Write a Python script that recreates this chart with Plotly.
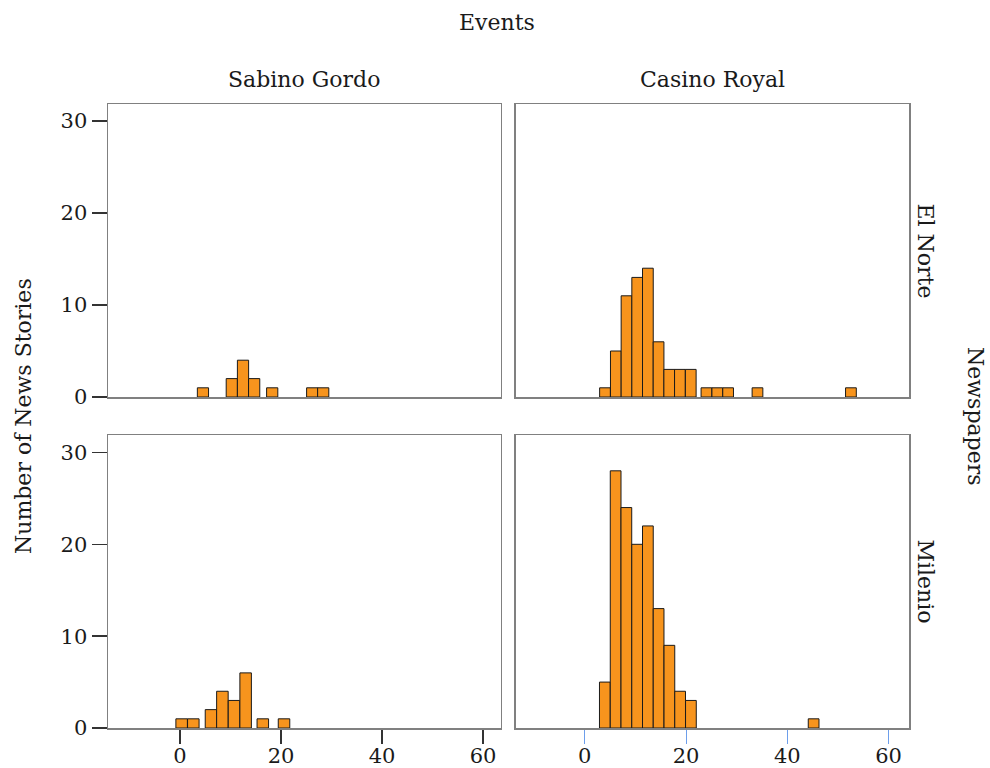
import plotly.graph_objects as go

# ---- data ----
events = ["Sabino Gordo", "Casino Royal"]
newspapers = ["El Norte", "Milenio"]

# El Norte / Sabino Gordo
elnorte_sabino_x = [4.55, 10.26, 12.48, 14.69, 18.26, 26.18, 28.36]
elnorte_sabino_n = [1, 2, 4, 2, 1, 1, 1]
# El Norte / Casino Royal
elnorte_casino_x = [3.99, 6.13, 8.24, 10.35, 12.46, 14.57, 16.68, 18.79, 20.93,
                    24.03, 26.17, 28.31, 34.11, 52.57]
elnorte_casino_n = [1, 5, 11, 13, 14, 6, 3, 3, 3, 1, 1, 1, 1, 1]
# Milenio / Sabino Gordo
milenio_sabino_x = [0.33, 2.64, 6.14, 8.40, 10.70, 13.00, 16.40, 20.60]
milenio_sabino_n = [1, 1, 2, 4, 3, 6, 1, 1]
# Milenio / Casino Royal
milenio_casino_x = [3.96, 6.09, 8.21, 10.34, 12.46, 14.58, 16.71, 18.83, 20.96, 45.2]
milenio_casino_n = [5, 28, 24, 20, 22, 13, 9, 4, 3, 1]

bar_widths = [2.22, 2.12, 2.28, 2.12]

y_ticks = [0, 10, 20, 30]
x_ticks = [0, 20, 40, 60]

x_title = "Events"
y_title = "Number of News Stories"
row_title = "Newspapers"

# ---- styling ----
FONT = "DejaVu Serif"
ORANGE = "#F7941D"
FRAME = "#808080"
W, H = 990, 768


def px_x(p):
    return p / W


def px_y(p):
    return 1 - p / H


panels = [
    (elnorte_sabino_x, elnorte_sabino_n, "x", "y"),
    (elnorte_casino_x, elnorte_casino_n, "x2", "y2"),
    (milenio_sabino_x, milenio_sabino_n, "x3", "y3"),
    (milenio_casino_x, milenio_casino_n, "x4", "y4"),
]

fig = go.Figure()
for (xs, ns, xa, ya), w in zip(panels, bar_widths):
    fig.add_trace(go.Bar(
        x=xs, y=ns, width=w, xaxis=xa, yaxis=ya,
        marker=dict(color=ORANGE, line=dict(color="#1a1a1a", width=1)),
        hoverinfo="skip", showlegend=False,
    ))

xdom_left = [px_x(108), px_x(500.7)]
xdom_right = [px_x(515.7), px_x(909.3)]
ydom_top = [px_y(397), px_y(104)]
ydom_bot = [px_y(728), px_y(435)]

xr_left = [-14.25, 63.5]
xr_right = [-13.65, 64.1]
yr_top = [0, 31.85]
yr_bot = [0, 31.9]

base_axis = dict(showgrid=False, zeroline=False, showline=True, mirror=True,
                 linecolor=FRAME, linewidth=1.5, fixedrange=True,
                 automargin=False)
tickfont = dict(family=FONT, size=21, color="#1a1a1a")

fig.update_layout(
    width=W, height=H,
    margin=dict(l=0, r=0, t=0, b=0, pad=0),
    paper_bgcolor="white", plot_bgcolor="white",
    showlegend=False, bargap=0,
    font=dict(family=FONT, color="#1a1a1a"),
    xaxis=dict(base_axis, domain=xdom_left, range=xr_left, anchor="y",
               showticklabels=False, ticks=""),
    yaxis=dict(base_axis, domain=ydom_top, range=yr_top, anchor="x",
               tickvals=y_ticks, ticks="outside", ticklen=15, tickwidth=1.5,
               tickcolor="#333333", tickfont=tickfont),
    xaxis2=dict(base_axis, domain=xdom_right, range=xr_right, anchor="y2",
                showticklabels=False, ticks=""),
    yaxis2=dict(base_axis, domain=ydom_top, range=yr_top, anchor="x2",
                showticklabels=False, ticks=""),
    xaxis3=dict(base_axis, domain=xdom_left, range=xr_left, anchor="y3",
                tickvals=x_ticks, ticks="outside", ticklen=14, tickwidth=1.5,
                tickcolor="#333333", tickfont=tickfont, ticklabelstandoff=-6),
    yaxis3=dict(base_axis, domain=ydom_bot, range=yr_bot, anchor="x3",
                tickvals=y_ticks, ticks="outside", ticklen=15, tickwidth=1.5,
                tickcolor="#333333", tickfont=tickfont),
    xaxis4=dict(base_axis, domain=xdom_right, range=xr_right, anchor="y4",
                tickvals=x_ticks, ticks="outside", ticklen=14, tickwidth=1,
                tickcolor="#6d9eeb", tickfont=tickfont, ticklabelstandoff=-6),
    yaxis4=dict(base_axis, domain=ydom_bot, range=yr_bot, anchor="x4",
                showticklabels=False, ticks=""),
)

tfont = dict(family=FONT, size=22, color="#1a1a1a")
ann = [
    dict(text=x_title, x=px_x(497.5), y=px_y(22), textangle=0),
    dict(text=events[0], x=px_x(304.3), y=px_y(80), textangle=0),
    dict(text=events[1], x=px_x(712.5), y=px_y(80), textangle=0),
    dict(text=newspapers[0], x=px_x(925), y=px_y(250.5), textangle=90),
    dict(text=newspapers[1], x=px_x(925), y=px_y(581.5), textangle=90),
    dict(text=row_title, x=px_x(976), y=px_y(416), textangle=90),
    dict(text=y_title, x=px_x(23), y=px_y(416), textangle=-90),
]
for a in ann:
    fig.add_annotation(xref="paper", yref="paper", showarrow=False,
                       xanchor="center", yanchor="middle", font=tfont, **a)

fig.write_html(
    "out.html",
    config={"displayModeBar": False, "staticPlot": True},
    post_script="document.body.style.margin='0';document.body.style.overflow='hidden';",
)
